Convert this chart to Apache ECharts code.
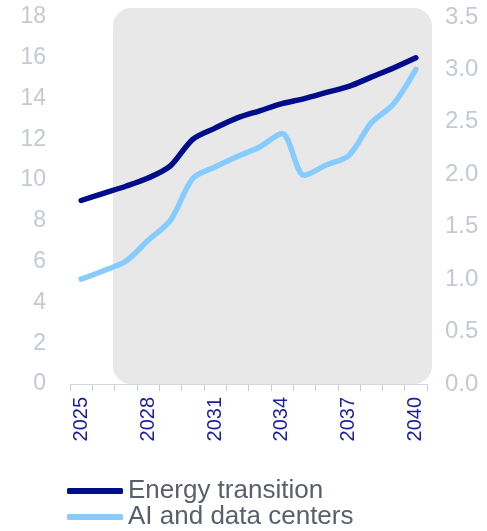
<!DOCTYPE html>
<html>
<head>
<meta charset="utf-8">
<script src="https://cdn.jsdelivr.net/npm/echarts@6/dist/echarts.min.js"></script>
<style>
  html, body { margin: 0; padding: 0; background: #fff; }
  #chart { width: 487px; height: 531px; }
</style>
</head>
<body>
<div id="chart"></div>
<script>
const years = ['2025', '2026', '2027', '2028', '2029', '2030', '2031', '2032',
  '2033', '2034', '2035', '2036', '2037', '2038', '2039', '2040'];
// left axis
const energyTransition = [9.0, 9.35, 9.7, 10.1, 10.7, 12.0, 12.55, 13.05, 13.4, 13.75, 14.0, 14.3, 14.6, 15.05, 15.5, 16.0];
// right axis
const aiDataCenters = [1.0, 1.08, 1.17, 1.37, 1.56, 1.96, 2.07, 2.17, 2.26, 2.39, 1.99, 2.09, 2.18, 2.49, 2.67, 3.0];

const chart = echarts.init(document.getElementById('chart'));

const legendBase = {
  left: 67,
  padding: 0,
  itemWidth: 56,
  itemHeight: 6,
  icon: 'roundRect',
  textStyle: { color: '#5a5f6b', fontSize: 26 }
};

chart.setOption({
  animation: false,
  textStyle: { fontFamily: 'Liberation Sans, Arial, sans-serif' },
  graphic: [{
    type: 'rect',
    z: -10,
    silent: true,
    shape: { x: 113, y: 8, width: 319, height: 376, r: 18 },
    style: { fill: '#e8e8e8' }
  }],
  grid: { left: 70, right: 60, top: 17, bottom: 147 },
  legend: [
    Object.assign({ top: 478, data: ['Energy transition'] }, legendBase),
    Object.assign({ top: 504, data: ['AI and data centers'] }, legendBase)
  ],
  xAxis: {
    type: 'category',
    data: years,
    boundaryGap: true,
    axisLine: { lineStyle: { color: '#d3d7de', width: 1 } },
    axisTick: { show: true, interval: 0, length: 7, lineStyle: { color: '#c8cdd5' } },
    axisLabel: {
      interval: 2,
      rotate: 90,
      color: '#1a1d9c',
      fontSize: 20,
      margin: 13
    }
  },
  yAxis: [{
    type: 'value',
    min: 0, max: 18, interval: 2,
    splitLine: { show: false },
    axisLine: { show: false },
    axisTick: { show: false },
    axisLabel: { color: '#c3cad4', fontSize: 23, margin: 24 }
  }, {
    type: 'value',
    min: 0, max: 3.5, interval: 0.5,
    splitLine: { show: false },
    axisLine: { show: false },
    axisTick: { show: false },
    axisLabel: {
      color: '#c3cad4', fontSize: 24, margin: 18,
      formatter: v => v.toFixed(1)
    }
  }],
  series: [{
    name: 'Energy transition',
    type: 'line',
    yAxisIndex: 0,
    data: energyTransition,
    smooth: 0.3,
    symbol: 'none',
    lineStyle: { color: '#000d8a', width: 5.5, cap: 'round' },
    itemStyle: { color: '#000d8a' }
  }, {
    name: 'AI and data centers',
    type: 'line',
    yAxisIndex: 1,
    data: aiDataCenters,
    smooth: 0.3,
    symbol: 'none',
    lineStyle: { color: '#86ccff', width: 5.5, cap: 'round' },
    itemStyle: { color: '#86ccff' }
  }]
});
</script>
</body>
</html>
